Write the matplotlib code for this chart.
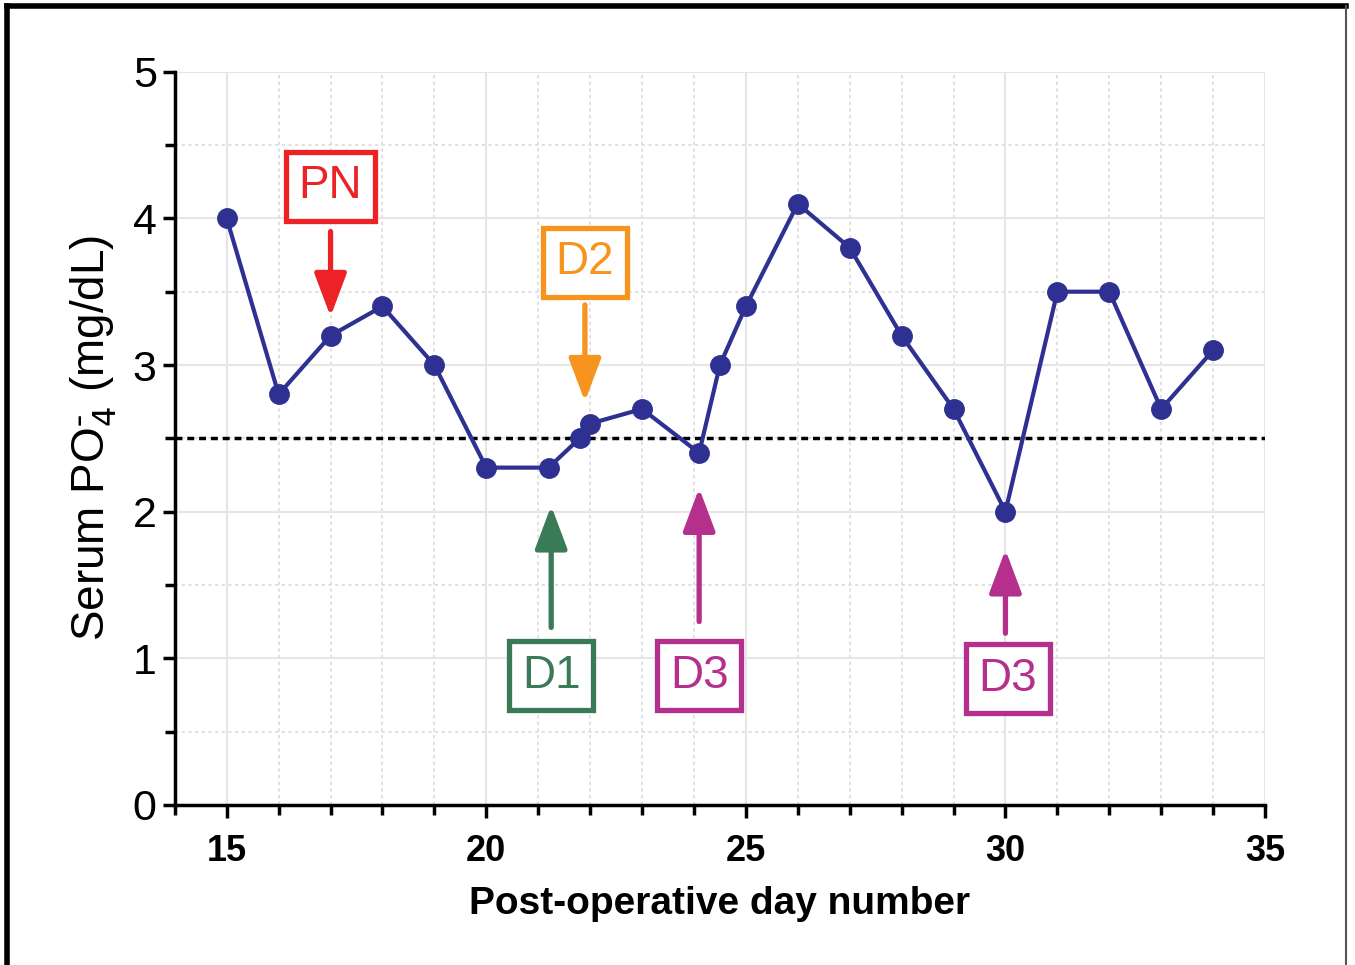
import matplotlib
matplotlib.use('Agg')
import matplotlib.pyplot as plt
from matplotlib.lines import Line2D
from matplotlib.ticker import MultipleLocator

plt.rcParams['font.family'] = ['Liberation Sans', 'DejaVu Sans']

# post-operative day and serum phosphate values
days = [15, 16, 17, 18, 19, 20, 21.2, 21.8, 22, 23, 24.1, 24.5, 25,
        26, 27, 28, 29, 30, 31, 32, 33, 34]
po4 = [4.0, 2.8, 3.2, 3.4, 3.0, 2.3, 2.3, 2.5, 2.6, 2.7, 2.4, 3.0, 3.4,
       4.1, 3.8, 3.2, 2.7, 2.0, 3.5, 3.5, 2.7, 3.1]
threshold = 2.5

# annotation labels: text, colour, box centre, arrow tail, arrow tip
ann_labels = ['PN', 'D2', 'D1', 'D3', 'D3']
ann_colors = ['#ec2227', '#f7941d', '#3b7a57', '#b52f8c', '#b52f8c']
ann_box = [(17, 4.22), (21.9, 3.70), (21.25, 0.88), (24.1, 0.88), (30.05, 0.86)]
ann_tail = [(17, 3.91), (21.9, 3.41), (21.25, 1.21), (24.1, 1.25), (30.0, 1.17)]
ann_tip = [(17, 3.33), (21.9, 2.75), (21.25, 2.04), (24.1, 2.16), (30.0, 1.74)]

fig = plt.figure(figsize=(13.55, 9.65), dpi=100)
ax = fig.add_axes([0.129, 0.166, 0.8046, 0.7596])

ax.set_xlim(14, 35)
ax.set_ylim(0, 5)
ax.xaxis.set_major_locator(MultipleLocator(5))
ax.xaxis.set_minor_locator(MultipleLocator(1))
ax.yaxis.set_major_locator(MultipleLocator(1))
ax.yaxis.set_minor_locator(MultipleLocator(0.5))
ax.grid(which='major', color='#e6e6e6', lw=1.5, ls='-', zorder=0)
ax.grid(which='minor', color='#dcdcdc', lw=1.2, ls=(0, (2, 2)), zorder=0)
ax.set_axisbelow(True)

for s in ['top', 'right']:
    ax.spines[s].set_visible(False)
for s in ['left', 'bottom']:
    ax.spines[s].set_linewidth(2.5)
ax.tick_params(which='major', direction='out', length=9, width=2.5, color='black')
ax.tick_params(which='minor', direction='out', length=7, width=2.5, color='black')
ax.tick_params(axis='y', labelsize=31, pad=4)
ax.tick_params(axis='x', labelsize=26, pad=12)
for lb in ax.get_xticklabels():
    lb.set_fontweight('bold')

ax.axhline(threshold, color='black', lw=2.5, ls=(0, (2, 1.4)), zorder=2)
ax.plot(days, po4, color='#2e3192', lw=3.0, marker='o', markersize=14, zorder=3)

for i in range(len(ann_labels)):
    c = ann_colors[i]
    ax.text(ann_box[i][0], ann_box[i][1], ann_labels[i], color=c, fontsize=33,
            ha='center', va='center', zorder=4,
            bbox=dict(boxstyle='square,pad=0.27', fc='white', ec=c, lw=3.8))
    ax.annotate('', xy=ann_tip[i], xytext=ann_tail[i], zorder=4,
                arrowprops=dict(arrowstyle='-|>,head_length=1.2,head_width=0.45',
                                color=c, lw=3.8, mutation_scale=22,
                                shrinkA=0, shrinkB=0))

ax.set_xlabel('Post-operative day number', fontsize=28, fontweight='bold', labelpad=12)
ax.set_ylabel('Serum PO$_4^{\\bar{\\ }}$ (mg/dL)', fontsize=33, labelpad=10)

# outer frame of the figure
fig.add_artist(Line2D([0.005, 0.005], [0.0, 0.994], color='black', lw=4,
                      transform=fig.transFigure))
fig.add_artist(Line2D([0.005, 0.9935], [0.994, 0.994], color='black', lw=4,
                      transform=fig.transFigure))
fig.add_artist(Line2D([0.9935, 0.9935], [0.0, 0.994], color='#555555', lw=1.5,
                      transform=fig.transFigure))

fig.savefig('out.png', dpi=100)
